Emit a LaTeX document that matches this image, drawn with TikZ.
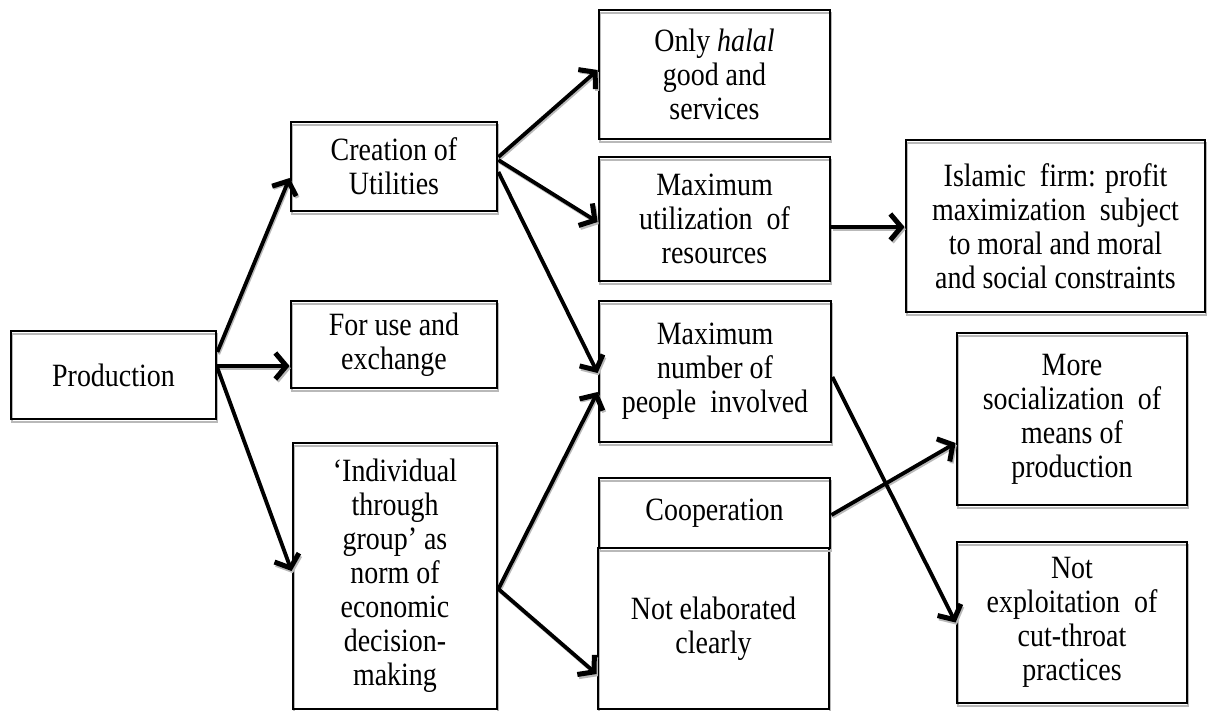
\documentclass[tikz,border=0pt]{standalone}
\usepackage{fontspec}
\setmainfont{Liberation Serif}[FakeStretch=0.86]
\usetikzlibrary{arrows.meta,shadows}
\begin{document}
\begin{tikzpicture}[x=1pt,y=-1pt,
  box/.style={draw=black, line width=2.8pt, rectangle, inner sep=0pt, align=center,
    font=\fontsize{32.5}{34}\selectfont,
    general shadow={shadow xshift=1pt, shadow yshift=-3pt, draw=gray!55, line width=2pt}},
  arr/.style={line width=3.8pt, -{Straight Barb[length=11pt,width=26pt,line width=5pt]}},
  shd/.style={line width=3pt, draw=gray!55, -{Straight Barb[length=11pt,width=26pt,line width=4pt]}, transform canvas={xshift=1.2pt,yshift=-2.2pt}}]
\useasboundingbox (0,0) rectangle (1208,711);
% boxes
\node[box, minimum width=205, minimum height=88] (prod) at (113.5,375) {Production};
\node[box, minimum width=206, minimum height=89] (creat) at (394,166.5) {Creation of\\Utilities};
\node[box, minimum width=206, minimum height=87] (foruse) at (394,344.5) {For use and\\exchange};
\node[box, minimum width=204, minimum height=266] (indiv) at (395,576) {‘Individual\\through\\group’ as\\norm of\\economic\\decision-\\making};
\node[box, minimum width=231, minimum height=129] (halal) at (714.5,74.5) {Only \textit{halal}\\good and\\services};
\node[box, minimum width=231, minimum height=124] (maxutil) at (714.5,219) {Maximum\\utilization~~of\\resources};
\node[box, minimum width=232, minimum height=141] (maxnum) at (715,371.5) {Maximum\\number of\\people~~involved};
\node[box, minimum width=231, minimum height=161] (notelab) at (713.5,628.5) {Not elaborated\\clearly};
\node[box, minimum width=231, minimum height=70] (coop) at (714.5,513) {Cooperation};
\node[box, minimum width=299, minimum height=172] (islamic) at (1055.5,226) {Islamic~~firm: profit\\maximization~~subject\\to moral and moral\\and social constraints};
\node[box, minimum width=230, minimum height=172] (more) at (1072,419) {More\\socialization~~of\\means of\\production};
\node[box, minimum width=230, minimum height=161] (notexp) at (1072,622.5) {Not\\exploitation~~of\\cut-throat\\practices};
% connector shadows
\draw[shd] ([yshift=23pt]prod.east) -- ([yshift=-11.5pt]creat.west);
\draw[shd] ([yshift=9pt]prod.east) -- ([yshift=9pt]prod.east -| foruse.west);
\draw[shd] ([yshift=7pt]prod.east) -- ([yshift=5pt]indiv.west);
\draw[shd] ([yshift=9.5pt]creat.east) -- ([yshift=4.5pt]halal.west);
\draw[shd] ([yshift=6.5pt]creat.east) -- ([yshift=-3pt]maxutil.west);
\draw[shd] ([yshift=-5.5pt]creat.east) -- ([yshift=-1.5pt]maxnum.west);
\draw[shd] ([yshift=-8pt]maxutil.east) -- ([yshift=-8pt]maxutil.east -| islamic.west);
\draw[shd] ([yshift=-13pt]indiv.east) -- ([yshift=-20.5pt]maxnum.west);
\draw[shd] ([yshift=-13pt]indiv.east) -- ([yshift=-45.5pt]notelab.west);
\draw[shd] ([yshift=-5.5pt]maxnum.east) -- (notexp.west);
\draw[shd] ([yshift=-2pt]coop.east) -- ([yshift=-24pt]more.west);
% connectors
\draw[arr] ([yshift=23pt]prod.east) -- ([yshift=-11.5pt]creat.west);
\draw[arr] ([yshift=9pt]prod.east) -- ([yshift=9pt]prod.east -| foruse.west);
\draw[arr] ([yshift=7pt]prod.east) -- ([yshift=5pt]indiv.west);
\draw[arr] ([yshift=9.5pt]creat.east) -- ([yshift=4.5pt]halal.west);
\draw[arr] ([yshift=6.5pt]creat.east) -- ([yshift=-3pt]maxutil.west);
\draw[arr] ([yshift=-5.5pt]creat.east) -- ([yshift=-1.5pt]maxnum.west);
\draw[arr] ([yshift=-8pt]maxutil.east) -- ([yshift=-8pt]maxutil.east -| islamic.west);
\draw[arr] ([yshift=-13pt]indiv.east) -- ([yshift=-20.5pt]maxnum.west);
\draw[arr] ([yshift=-13pt]indiv.east) -- ([yshift=-45.5pt]notelab.west);
\draw[arr] ([yshift=-5.5pt]maxnum.east) -- (notexp.west);
\draw[arr] ([yshift=-2pt]coop.east) -- ([yshift=-24pt]more.west);
\end{tikzpicture}
\end{document}
